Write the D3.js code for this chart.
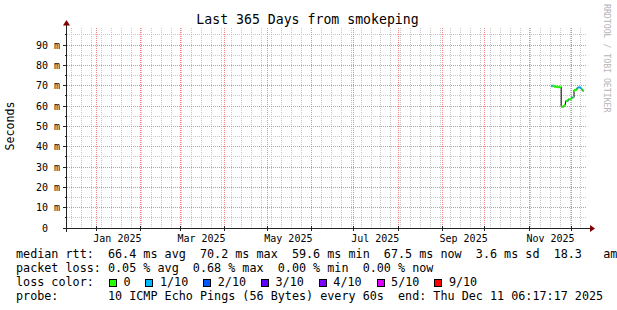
<!DOCTYPE html>
<html>
<head>
<meta charset="utf-8">
<script src="https://cdn.jsdelivr.net/npm/d3@7"></script>
<style>
  body { margin: 0; background: #fff; }
  text { font-family: "DejaVu Sans Mono", monospace; white-space: pre; }
</style>
</head>
<body>
<div id="chart"></div>
<script>
// ---- data ----
var endTime   = new Date(Date.UTC(2025, 11, 11, 6, 17, 17));
var spanDays  = 365;
var yMax      = 98.4;                 // ms, upper edge of the graph
var yTicks    = [0, 10, 20, 30, 40, 50, 60, 70, 80, 90];
var yMinor    = [5, 15, 25, 35, 45, 55, 65, 75, 85, 95];

var days = ["2025-11-16", "2025-11-17", "2025-11-18", "2025-11-19", "2025-11-20",
            "2025-11-21", "2025-11-22", "2025-11-23", "2025-11-24", "2025-11-25",
            "2025-11-26", "2025-11-27", "2025-11-28", "2025-11-29", "2025-11-30",
            "2025-12-01", "2025-12-02", "2025-12-03", "2025-12-04", "2025-12-05",
            "2025-12-06", "2025-12-07", "2025-12-08"];
var median = [69.9, 70.0, 69.6, 69.5, 69.4, 69.3, 69.4, 59.7, 59.6, 60.5,
              62.5, 62.6, 63.3, 63.4, 64.1, 64.2, 67.8, 68.0, 68.9, 69.2,
              69.0, 68.2, 67.5];
var lossClass = [1, 0, 0, 0, 0, 0, 0, 0, 0, 0,
                 0, 1, 0, 0, 1, 0, 0, 0, 1, 1,
                 1, 0, 0];

var lossLabels = ["0", "1/10", "2/10", "3/10", "4/10", "5/10", "9/10"];
var lossColors = ["#26ff00", "#00b8ff", "#0059ff", "#5e00ff", "#7e00ff", "#dd00ff", "#ff0000"];

var monthNames = ["Jan", "Feb", "Mar", "Apr", "May", "Jun", "Jul", "Aug", "Sep", "Oct", "Nov", "Dec"];

var legendRows = [
  "median rtt:  66.4 ms avg  70.2 ms max  59.6 ms min  67.5 ms now  3.6 ms sd  18.3   am/s",
  "packet loss: 0.05 % avg  0.68 % max  0.00 % min  0.00 % now",
  "loss color:",
  "probe:       10 ICMP Echo Pings (56 Bytes) every 60s  end: Thu Dec 11 06:17:17 2025"
];

var title     = "Last 365 Days from smokeping";
var yTitle    = "Seconds";
var watermark = "RRDTOOL / TOBI OETIKER";

// ---- layout ----
var W = 617, H = 310;
var x0 = 66.5, x1 = 586.5, yTop = 28, yBot = 228;
var cw = 7.07;                          // legend character width

var svg = d3.select("#chart").append("svg")
  .attr("width", W).attr("height", H)
  .attr("xml:space", "preserve");

svg.append("rect").attr("width", W).attr("height", H).attr("fill", "#fff");

var startTime = new Date(endTime.getTime() - spanDays * 864e5);
var x = d3.scaleUtc().domain([startTime, endTime]).range([x0, x1]);
var y = d3.scaleLinear().domain([0, yMax]).range([yBot, yTop]);

function px(v) { return Math.floor(v) + 0.5; }

var grid = svg.append("g");
var months = d3.utcMonth.range(startTime, endTime);

// minor vertical grid (weeks)
grid.selectAll(".vmin").data(d3.utcSunday.range(startTime, endTime)).enter().append("line")
  .attr("x1", function (d) { return px(x(d)); })
  .attr("x2", function (d) { return px(x(d)); })
  .attr("y1", yTop).attr("y2", yBot)
  .attr("stroke", "#c8c8c8").attr("stroke-dasharray", "1,1");

// minor horizontal grid
grid.selectAll(".hmin").data(yMinor).enter().append("line")
  .attr("x1", 67).attr("x2", 587)
  .attr("y1", function (d) { return px(y(d)); })
  .attr("y2", function (d) { return px(y(d)); })
  .attr("stroke", "#c8c8c8").attr("stroke-dasharray", "1,1");

// major horizontal grid
grid.selectAll(".hmaj").data(yTicks.slice(1)).enter().append("line")
  .attr("x1", 67).attr("x2", 587)
  .attr("y1", function (d) { return px(y(d)); })
  .attr("y2", function (d) { return px(y(d)); })
  .attr("stroke", "#f08888").attr("stroke-dasharray", "1,1");

// major vertical grid (months)
grid.selectAll(".vmaj").data(months).enter().append("line")
  .attr("x1", function (d) { return px(x(d)); })
  .attr("x2", function (d) { return px(x(d)); })
  .attr("y1", yTop).attr("y2", yBot)
  .attr("stroke", "#f08888").attr("stroke-dasharray", "1,1");

// ---- data ----
var pts = days.map(function (d, i) {
  return { t: new Date(d + "T12:00:00Z"), v: median[i], c: lossClass[i] };
});
var last = pts[pts.length - 1];
var stepPts = pts.concat([{ t: new Date(last.t.getTime() + 864e5), v: last.v }]);

var line = d3.line()
  .x(function (d) { return x(d.t); })
  .y(function (d) { return y(d.v); })
  .curve(d3.curveStepAfter);

svg.append("path").datum(stepPts)
  .attr("d", line).attr("fill", "none")
  .attr("stroke", "#000").attr("stroke-width", 1);

svg.selectAll(".seg").data(pts).enter().append("line")
  .attr("x1", function (d) { return x(d.t); })
  .attr("x2", function (d) { return x(new Date(d.t.getTime() + 864e5)); })
  .attr("y1", function (d) { return y(d.v); })
  .attr("y2", function (d) { return y(d.v); })
  .attr("stroke", function (d) { return lossColors[d.c]; })
  .attr("stroke-width", 2.4);

// ---- axes ----
var axis = svg.append("g").attr("shape-rendering", "crispEdges").attr("stroke", "#222");
axis.append("line").attr("x1", 63).attr("x2", 590).attr("y1", yBot + 0.5).attr("y2", yBot + 0.5);
axis.append("line").attr("x1", 66.5).attr("x2", 66.5).attr("y1", yBot + 4).attr("y2", yTop - 3);

// y axis ticks
axis.selectAll(".yt").data(yTicks).enter().append("line")
  .attr("x1", 63).attr("x2", 67)
  .attr("y1", function (d) { return px(y(d)); })
  .attr("y2", function (d) { return px(y(d)); });
axis.selectAll(".ymt").data(yMinor).enter().append("line")
  .attr("x1", 65).attr("x2", 67)
  .attr("y1", function (d) { return px(y(d)); })
  .attr("y2", function (d) { return px(y(d)); });

// x axis ticks
axis.selectAll(".xt").data(months).enter().append("line")
  .attr("x1", function (d) { return px(x(d)); })
  .attr("x2", function (d) { return px(x(d)); })
  .attr("y1", yBot - 2).attr("y2", yBot + 3);

// arrows
svg.append("path").attr("d", "M590,225L595,228.5L590,232Z").attr("fill", "#7f0000");
svg.append("path").attr("d", "M63,25.5L66.5,20L70,25.5Z").attr("fill", "#7f0000");

// y labels
var ylab = svg.append("g").attr("font-size", 10).attr("fill", "#000");
ylab.selectAll(".yn").data(yTicks).enter().append("text")
  .attr("x", 48).attr("y", function (d) { return y(d) + 3.5; })
  .attr("text-anchor", "end").text(function (d) { return d; });
ylab.selectAll(".yu").data(yTicks.slice(1)).enter().append("text")
  .attr("x", 54).attr("y", function (d) { return y(d) + 3.5; })
  .text("m");

// month labels, centred half a month after the month start
var labelMonths = months.filter(function (d) { return d.getUTCMonth() % 2 === 0; });
ylab.selectAll(".xl").data(labelMonths).enter().append("text")
  .attr("x", function (d) { return x(new Date(d.getTime() + 15 * 864e5)); })
  .attr("y", 241.5)
  .attr("text-anchor", "middle")
  .text(function (d) { return monthNames[d.getUTCMonth()] + " " + d.getUTCFullYear(); });

// titles
svg.append("text").attr("x", 307.5).attr("y", 23.5).attr("text-anchor", "middle")
  .attr("font-size", 13.2).text(title);

svg.append("text").attr("transform", "translate(13.5,126) rotate(-90)")
  .attr("text-anchor", "middle").attr("font-size", 11.6).text(yTitle);

svg.append("text").attr("transform", "translate(603.5,4) rotate(90)")
  .attr("font-size", 8.2).attr("fill", "#b4b4b4").text(watermark);

// ---- legend ----
var legend = svg.append("g").attr("font-size", 11.75).attr("fill", "#000");
var rowY = [258, 272, 286, 299.5];
legendRows.forEach(function (s, i) {
  legend.append("text").attr("x", 16).attr("y", rowY[i]).text(s);
});

var bx = 16 + 13 * cw + 1;
lossLabels.forEach(function (lab, i) {
  legend.append("rect")
    .attr("x", Math.round(bx) + 0.5).attr("y", rowY[2] - 6.5)
    .attr("width", 7).attr("height", 7)
    .attr("fill", lossColors[i]).attr("stroke", "#000").attr("stroke-width", 1);
  var tx = bx + 14.5;
  legend.append("text").attr("x", tx).attr("y", rowY[2]).text(lab);
  bx = tx + lab.length * cw + 15;
});
</script>
</body>
</html>
